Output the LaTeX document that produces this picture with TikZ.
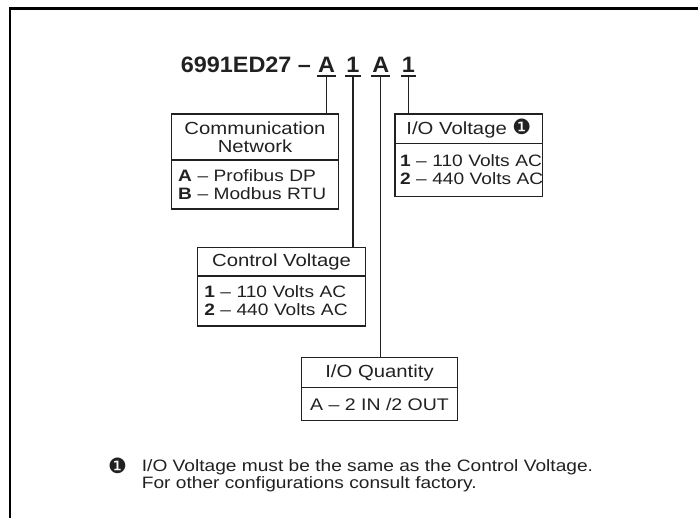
\documentclass[tikz,border=0pt]{standalone}
\usepackage{fontspec}
\setmainfont{Liberation Sans}[FakeStretch=1.16]
\newfontfamily\codefont{Liberation Sans}[FakeStretch=1.05]
\newfontfamily\symfont{DejaVu Sans}
\usetikzlibrary{positioning}
\definecolor{ink}{gray}{0.13}
\newcommand{\notemark}{{\symfont\fontsize{21}{21}\selectfont ❶}}
\tikzset{
  box/.style={draw=ink, line width=1.2pt, outer sep=0pt, text=ink},
  hdr/.style args={#1/#2}{box, minimum width=#1, minimum height=#2, inner sep=0pt, align=center,
    font=\fontsize{17.5}{18}\selectfont},
  lst/.style args={#1/#2}{box, text width=#1, minimum height=#2, inner xsep=7pt, inner ysep=0pt, align=left},
  code/.style={anchor=base, text=ink, font=\codefont\bfseries\fontsize{22.3}{24}\selectfont,
    inner xsep=1pt, inner ysep=3.3pt, text depth=0pt, outer sep=0pt},
  link/.style={draw=ink, line width=1.1pt}
}
\begin{document}
\begin{tikzpicture}[x=1pt, y=-1pt, font=\fontsize{16.5}{18}\selectfont]
  \useasboundingbox (0,0) rectangle (698,518);
  \draw[line width=2.6pt, line join=miter] (698,8.5) -- (10,8.5) -- (10,518);
  % catalogue number
  \node[code, anchor=base east, inner sep=0pt] (part) at (311,72.7) {6991ED27 –};
  \foreach \n/\x/\t in {cnet/326.5/A, cctl/353/1, cqty/380.8/A, cio/408.5/1}
    \node[code] (\n) at (\x,72.7) {\t};
  % option boxes
  \node[hdr={166.6pt/46pt}, anchor=north west] (net) at (171.7,114) {Communication\\Network};
  \node[lst={153.6pt/49pt}, below=0pt of net, inner xsep=6.5pt] (netlst)
    {\mbox{\textbf{A} – Profibus DP}\\\mbox{\textbf{B} – Modbus RTU}};
  \node[hdr={147.7pt/29.3pt}, anchor=north west] (io) at (395,114) {I/O Voltage \notemark};
  \node[lst={137.7pt/53.4pt}, below=0pt of io, inner xsep=5pt] (iolst)
    {\mbox{\textbf{1} – 110 Volts AC}\\\mbox{\textbf{2} – 440 Volts AC}};
  \node[hdr={168.4pt/28.7pt}, anchor=north west] (ctl) at (197.3,247.3) {Control Voltage};
  \node[lst={154.4pt/50pt}, below=0pt of ctl] (ctllst)
    {\mbox{\textbf{1} – 110 Volts AC}\\\mbox{\textbf{2} – 440 Volts AC}};
  \node[hdr={155.6pt/29.6pt}, anchor=north west] (qty) at (301.7,357.7) {I/O Quantity};
  \node[hdr={155.6pt/33.4pt}, below=0pt of qty, font=\fontsize{16.8}{18}\selectfont] (qtylst) {A – 2 IN /2 OUT};
  % underlines and leaders
  \foreach \c/\b in {cnet/net, cctl/ctl, cqty/qty, cio/io}{
    \draw[link] (\c.south west) -- (\c.south east);
    \draw[link] (\c.south) -- (\c.south |- \b.north);
  }
  % footnote
  \node[anchor=base, text=ink, inner sep=0pt] (fnmark) at (117.5,473.3) {\notemark};
  \node[anchor=base west, text=ink, inner sep=0pt, align=left, font=\fontsize{16.5}{15}\selectfont]
    (fntext) at (141.7,488.3) {I/O Voltage must be the same as the Control Voltage.\\For other configurations consult factory.};
\end{tikzpicture}
\end{document}
